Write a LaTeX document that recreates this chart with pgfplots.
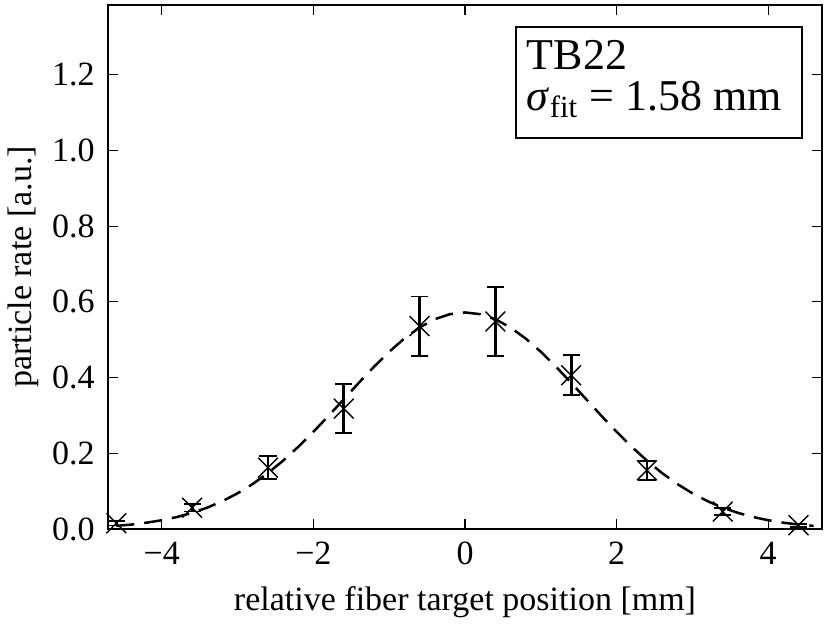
\documentclass[border=0pt]{standalone}
\usepackage{fontspec}
\setmainfont{Liberation Serif}
\usepackage{pgfplots}
\pgfplotsset{compat=1.18}
\begin{document}
\begin{tikzpicture}
\begin{axis}[
  name=ax,
  scale only axis,
  width=357pt, height=262pt,
  xmin=-4.71, xmax=4.71,
  ymin=0, ymax=1.384,
  axis line style={line width=1.3pt},
  tick style={line width=0.6pt, black},
  major tick length=5pt,
  tick align=inside,
  xtick={-4,-2,0,2,4},
  xticklabels={−4,−2,0,2,4},
  ytick={0,0.2,0.4,0.6,0.8,1.0,1.2},
  yticklabels={0.0,0.2,0.4,0.6,0.8,1.0,1.2},
  minor tick num=0,
  tick label style={font=\fontsize{17pt}{19pt}\selectfont},
  yticklabel style={inner sep=0pt, anchor=east, xshift=-6.5pt},
  xticklabel style={inner sep=0pt, anchor=base, yshift=-17.5pt},
  xlabel={relative fiber target position [mm]},
  xlabel style={font=\fontsize{17pt}{19pt}\selectfont, at={(axis description cs:0.5,0)}, anchor=base, yshift=-40.5pt, inner sep=0pt},
]
\addplot[black, line width=1.25pt, dash pattern=on 9pt off 5pt] coordinates {
(-4.6,0.0083) (-4.4,0.0118) (-4.2,0.0167) (-4.0,0.0232) (-3.8,0.0317) (-3.6,0.0427)
(-3.4,0.0565) (-3.2,0.0736) (-3.0,0.0943) (-2.8,0.1190) (-2.6,0.1477) (-2.4,0.1805)
(-2.2,0.2170) (-2.0,0.2567) (-1.8,0.2989) (-1.6,0.3425) (-1.4,0.3863) (-1.2,0.4287)
(-1.0,0.4682) (-0.8,0.5032) (-0.6,0.5322) (-0.4,0.5540) (-0.2,0.5674) (0.0,0.5720)
(0.2,0.5674) (0.4,0.5540) (0.6,0.5322) (0.8,0.5032) (1.0,0.4682) (1.2,0.4287)
(1.4,0.3863) (1.6,0.3425) (1.8,0.2989) (2.0,0.2567) (2.2,0.2170) (2.4,0.1805)
(2.6,0.1477) (2.8,0.1190) (3.0,0.0943) (3.2,0.0736) (3.4,0.0565) (3.6,0.0427)
(3.8,0.0317) (4.0,0.0232) (4.2,0.0167) (4.4,0.0118) (4.6,0.0083)
};
\addplot[black, only marks, mark=x, mark size=7pt, mark options={line width=0.7pt},
  error bars/.cd, y dir=both, y explicit,
  error bar style={line width=1.4pt},
  error mark options={rotate=90, mark size=4.3pt, line width=0.9pt}]
coordinates {
(-4.6,0.015) +- (0,0.006)
(-3.6,0.056) +- (0,0.010)
(-2.6,0.162) +- (0,0.030)
(-1.6,0.318) +- (0,0.064)
(-0.6,0.536) +- (0,0.078)
(0.4,0.548) +- (0,0.091)
(1.4,0.406) +- (0,0.053)
(2.4,0.155) +- (0,0.025)
(3.4,0.046) +- (0,0.010)
(4.4,0.010) +- (0,0.004)
};
\draw[line width=1.15pt] (rel axis cs:0.571,0.9586) rectangle (rel axis cs:0.9716,0.7462);
\node[anchor=base west, inner sep=0pt, font=\fontsize{22pt}{19pt}\selectfont] at (rel axis cs:0.586,0.877)
  {\begin{tabular}[t]{@{}l@{}}TB22\\\textit{σ}\textsubscript{fit} = 1.58 mm\end{tabular}};
\end{axis}
\node[rotate=90, anchor=base, inner sep=0pt, font=\fontsize{17pt}{19pt}\selectfont] at ([xshift=-38pt]ax.west) {particle rate [a.u.]};
\pgfresetboundingbox
\path ([xshift=-54pt,yshift=-47pt]ax.south west) rectangle ([xshift=4pt,yshift=2.5pt]ax.north east);
\end{tikzpicture}
\end{document}
